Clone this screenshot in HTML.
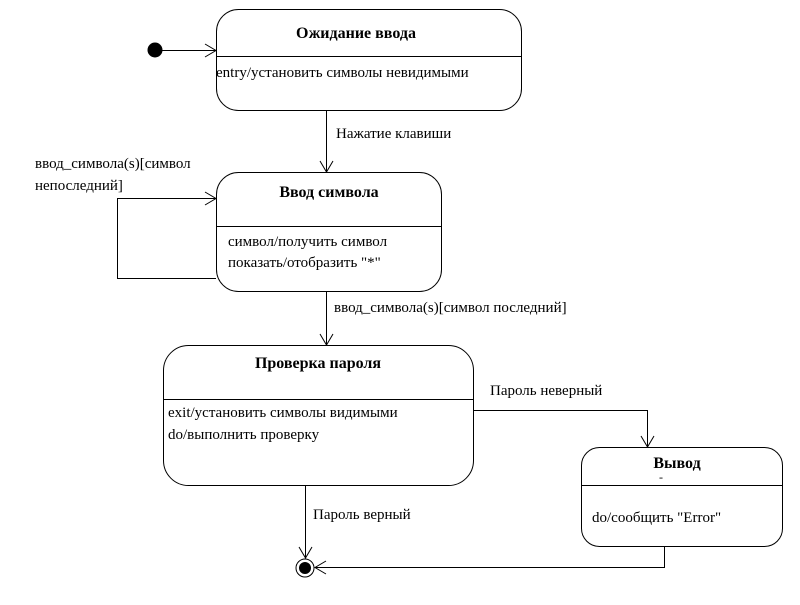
<!DOCTYPE html>
<html><head><meta charset="utf-8"><style>
body{margin:0;background:#fff}
svg text{font-family:"Liberation Serif","Noto Serif CJK SC",serif;font-size:15px;fill:#000}
.b{font-weight:bold;font-size:16px}
</style></head><body>
<svg width="800" height="600" viewBox="0 0 800 600" xmlns="http://www.w3.org/2000/svg">
<g fill="none" stroke="#000" stroke-width="1">
<rect x="216.5" y="9.5" width="305" height="101" rx="22"/>
<line x1="216" y1="56.5" x2="521" y2="56.5"/>
<rect x="216.5" y="172.5" width="225" height="119" rx="22"/>
<line x1="216" y1="226.5" x2="441" y2="226.5"/>
<rect x="163.5" y="345.5" width="310" height="140" rx="25"/>
<line x1="163" y1="399.5" x2="473" y2="399.5"/>
<rect x="581.5" y="447.5" width="201" height="99" rx="18"/>
<line x1="581" y1="485.5" x2="782" y2="485.5"/>
<!-- connectors -->
<line x1="155" y1="50.5" x2="216" y2="50.5"/>
<polyline points="205,44 216,50.5 205,57"/>
<line x1="326.5" y1="110" x2="326.5" y2="172"/>
<polyline points="320,161 326.5,172 333,161"/>
<polyline points="216,278.5 117.5,278.5 117.5,198.5 216,198.5"/>
<polyline points="205,192 216,198.5 205,205"/>
<line x1="326.5" y1="291" x2="326.5" y2="345"/>
<polyline points="320,334 326.5,345 333,334"/>
<polyline points="473,410.5 647.5,410.5 647.5,447"/>
<polyline points="641,436 647.5,447 654,436"/>
<line x1="305.5" y1="485" x2="305.5" y2="558"/>
<polyline points="299,547 305.5,558 312,547"/>
<polyline points="664.5,546 664.5,567.5 315,567.5"/>
<polyline points="326,561 315,567.5 326,574"/>
<circle cx="305" cy="568" r="9"/>
</g>
<circle cx="155" cy="50" r="7.5" fill="#000"/>
<circle cx="305" cy="568" r="6" fill="#000"/>
<text x="356" y="38" class="b" text-anchor="middle">Ожидание ввода</text>
<text x="216" y="77">entry/установить символы невидимыми</text>
<text x="336" y="138">Нажатие клавиши</text>
<text x="329" y="197" class="b" text-anchor="middle">Ввод символа</text>
<text x="228" y="246">символ/получить символ</text>
<text x="228" y="267">показать/отобразить "*"</text>
<text x="35" y="168">ввод_символа(s)[символ</text>
<text x="35" y="190">непоследний]</text>
<text x="334" y="312">ввод_символа(s)[символ последний]</text>
<text x="318" y="368" class="b" text-anchor="middle">Проверка пароля</text>
<text x="168" y="417">exit/установить символы видимыми</text>
<text x="168" y="439">do/выполнить проверку</text>
<text x="490" y="395">Пароль неверный</text>
<text x="677" y="468" class="b" text-anchor="middle">Вывод</text>
<text x="661" y="481" text-anchor="middle" style="font-size:12px">-</text>
<text x="592" y="522">do/сообщить "Error"</text>
<text x="313" y="519">Пароль верный</text>
</svg>
</body></html>
